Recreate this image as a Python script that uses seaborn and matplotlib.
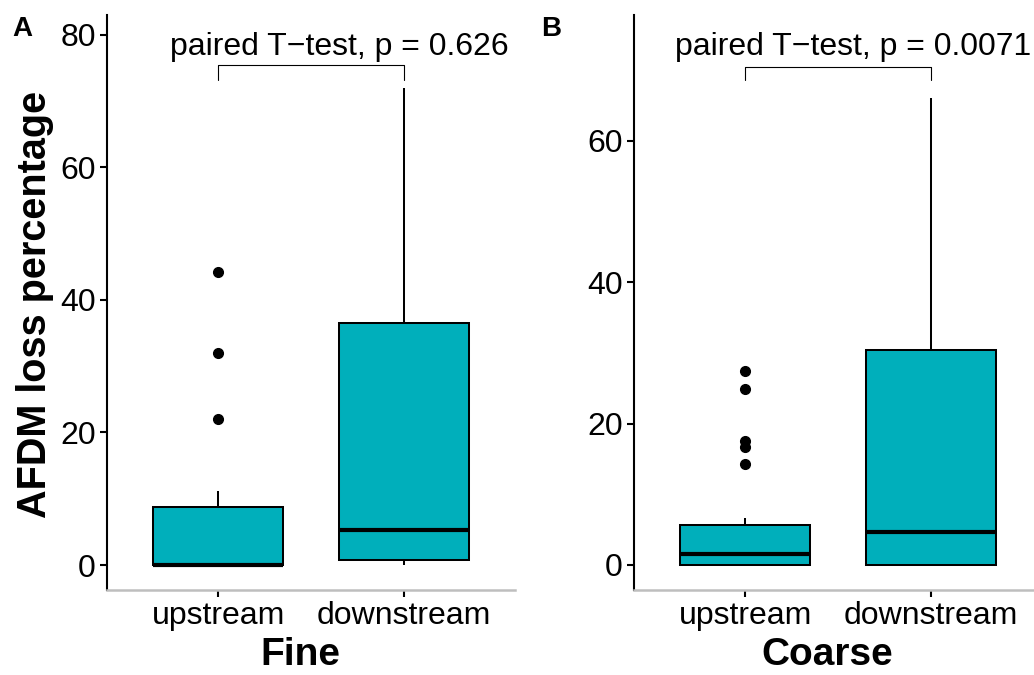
import numpy as np
import pandas as pd
import matplotlib
matplotlib.use("Agg")
import matplotlib.pyplot as plt
import seaborn as sns

# ---- data ----
groups = ["upstream", "downstream"]
fine_upstream = [0, 0, 0, 0, 0, 0, 0, 0, 0, 0, 0, 0.4, 1.8, 3.5, 6.1, 8.7, 9.8, 11.2, 22.0, 32.0, 44.2]
fine_downstream = [0, 0.1, 0.3, 0.4, 0.6, 0.75, 1.2, 2.0, 2.9, 4.1, 5.3, 8.0, 12.5, 18.4, 27.0, 36.5,
                   41.0, 48.5, 55.0, 63.0, 72.0]
coarse_upstream = [0, 0, 0, 0, 0, 0, 0, 0.2, 0.5, 0.8, 1.0, 1.3, 1.5, 2.1, 2.8, 3.5, 4.3, 5.0, 5.6, 6.65,
                   14.3, 16.7, 17.6, 24.9, 27.4]
coarse_downstream = [0, 0, 0, 0, 0, 0, 0, 0.5, 1.1, 1.9, 2.8, 3.7, 4.6, 7.0, 10.5, 14.0, 19.0, 24.5, 30.4,
                     35.0, 40.0, 46.0, 52.0, 59.0, 66.0]
panel_titles = ["Fine", "Coarse"]
panel_letters = ["A", "B"]
p_labels = ["paired T\u2212test, p = 0.626", "paired T\u2212test, p = 0.0071"]
yticks_list = [[0, 20, 40, 60, 80], [0, 20, 40, 60]]

FILL = "#00AFBB"

sns.set_theme(style="white")
plt.rcParams["font.family"] = ["Liberation Sans", "DejaVu Sans"]
plt.rcParams["text.color"] = "black"

fig = plt.figure(figsize=(10.34, 6.75), dpi=100)

W = 1034.0
H = 675.0
ax_w = 408 / W
ax_b = 1 - 590 / H
ax_h = (590 - 15) / H
lefts = [107 / W, 634 / W]
ylims = [(-3.77, 83.0), (-3.54, 77.8)]
bracket_y = [(75.5, 73.2), (70.5, 68.6)]
text_pos = [(-0.259, 77.0), (-0.378, 72.2)]
letter_x = [12 / W, 541 / W]

datasets = [(fine_upstream, fine_downstream), (coarse_upstream, coarse_downstream)]

for i in range(2):
    up, down = datasets[i]
    df = pd.DataFrame({
        "group": [groups[0]] * len(up) + [groups[1]] * len(down),
        "value": list(up) + list(down),
    })
    ax = fig.add_axes([lefts[i], ax_b, ax_w, ax_h])
    sns.boxplot(data=df, x="group", y="value", order=groups, color=FILL, width=0.7,
                linecolor="black", linewidth=1.45, showcaps=False, saturation=1,
                medianprops=dict(linewidth=3.0, color="black", solid_capstyle="butt"),
                flierprops=dict(marker="o", markerfacecolor="black", markeredgecolor="black",
                                markersize=7), ax=ax)
    ax.set_xlim(-0.6, 1.6)
    ax.set_ylim(*ylims[i])
    ax.set_yticks(yticks_list[i])
    ax.set_xlabel("")
    ax.set_ylabel("")
    for s in ["top", "right"]:
        ax.spines[s].set_visible(False)
    ax.spines["left"].set_color("black")
    ax.spines["left"].set_linewidth(1.5)
    ax.spines["bottom"].set_color("#BEBEBE")
    ax.spines["bottom"].set_linewidth(1.8)
    ax.tick_params(axis="both", which="major", length=5, width=1.5, color="black",
                   labelsize=23, labelcolor="black", direction="out")
    ax.tick_params(axis="y", pad=3)
    ax.tick_params(axis="x", pad=3)
    ax.tick_params(left=True, bottom=True)
    ax.grid(False)

    # bracket
    yb, yt = bracket_y[i]
    ax.plot([0, 0, 1, 1], [yt, yb, yb, yt], color="black", linewidth=0.8, clip_on=False)
    ax.text(text_pos[i][0], text_pos[i][1], p_labels[i], fontsize=23, ha="left", va="baseline",
            color="black", clip_on=False)

    # xlabel
    fig.text((lefts[i] * W + 0.474 * 408) / W, 1 - 655 / H, panel_titles[i], fontsize=28,
             fontweight="bold", ha="center", va="center", color="black")
    # panel letter
    fig.text(letter_x[i], 1 - 36 / H, panel_letters[i], fontsize=20, fontweight="bold",
             ha="left", va="baseline", color="black")

fig.text(35 / W, 1 - 304 / H, "AFDM loss percentage", fontsize=28.5, fontweight="bold",
         rotation=90, ha="center", va="center", color="black")

fig.savefig("out.png", dpi=100)
